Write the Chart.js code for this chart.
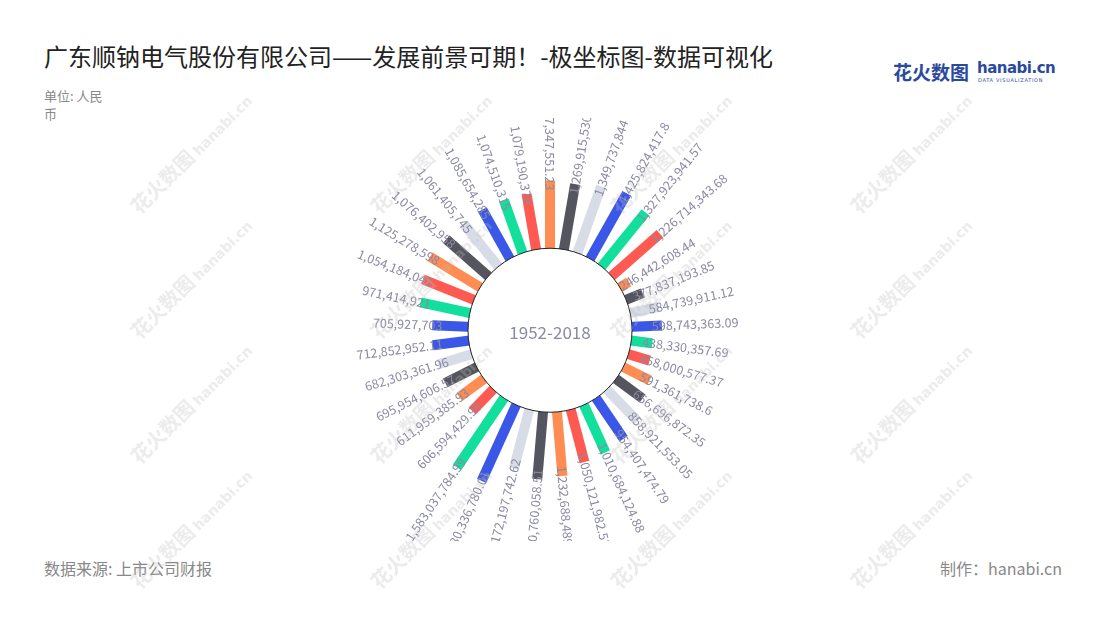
<!DOCTYPE html>
<html>
<head>
<meta charset="utf-8">
<script src="https://cdn.jsdelivr.net/npm/chart.js@4.4.1/dist/chart.umd.min.js"></script>
<style>
  body { margin: 0; background: #fff; font-family: "Noto Sans CJK SC", "Noto Sans", sans-serif; }
  #page { position: relative; width: 1100px; height: 620px; overflow: hidden; }
  #title { position: absolute; left: 44px; top: 38px; font-size: 24px; color: #222; white-space: nowrap; }
  #unit { position: absolute; left: 44px; top: 87px; width: 64px; font-size: 13px; color: #888; line-height: 18px; }
  #source { position: absolute; left: 44px; top: 556px; font-size: 16px; color: #888; }
  #maker { position: absolute; right: 38px; top: 556px; font-size: 16px; color: #888; }
  #logo { position: absolute; left: 893px; top: 58px; color: #2a4a9c; }
  #logo .cn { font-size: 19px; font-weight: bold; }
  #logo .en { position: absolute; left: 84px; top: 1px; font-size: 15px; font-weight: bold; font-family: "DejaVu Sans", sans-serif; letter-spacing: -0.5px; }
  #logo .sub { position: absolute; left: 85px; top: 19px; font-size: 5px; font-family: "DejaVu Sans", sans-serif; white-space: nowrap; letter-spacing: 0.7px; }
  #chartBox { position: absolute; left: 337px; top: 118px; }
  .wm { position: absolute; transform: rotate(-45deg); color: rgba(190,190,190,0.3); white-space: nowrap; pointer-events: none; }
  .wm b { font-size: 20px; }
  .wm span { font-size: 14px; font-weight: bold; font-family: "DejaVu Sans", sans-serif; }
</style>
</head>
<body>
<div id="page">
  <div id="title">广东顺钠电气股份有限公司——发展前景可期！-极坐标图-数据可视化</div>
  <div id="unit">单位: 人民币</div>
  <div id="logo"><span class="cn">花火数图</span><span class="en">hanabi.cn</span><span class="sub">DATA VISUALIZATION</span></div>
  <div id="chartBox"><canvas id="chartCanvas" width="426" height="423"></canvas></div>
  <div id="source">数据来源: 上市公司财报</div>
  <div id="maker">制作：hanabi.cn</div>
</div>
<script>
// values clockwise, starting from the bar at 12 o'clock
const values = [
  1297347551.23, 1269915530, 1349737844, 1425824417.8, 1327923941.57, 1226714343.68,
  246442608.44, 377837193.85, 584739911.12, 598743363.09, 438330357.69, 458000577.37,
  591361738.6, 656696872.35, 858921553.05, 954407474.79, 1010684124.88, 1050121982.53,
  1232688489.5, 1290760058.51, 1172197742.62, 1580336780.01, 1583037784.99, 606594429.95,
  611959385.93, 695954606.57, 682303361.96, 712852952.11, 705927703, 971414921,
  1054184045, 1125278598, 1076402958, 1061405745, 1085654285, 1074510315, 1079190370
];
const palette = ["#3b57e8", "#12df9b", "#ff5a52", "#ff8c52", "#55555f", "#d8dce7"];
const firstItem = 28;   // data series begins at the 705,927,703 bar
const centerText = "1952-2018";

const INNER = 1.436e9;  // value offset of the bar base (hidden under the circle)
const RANGE = 3.873e9;  // half width of the plot in value units
const CIRCLE_PX = 82;
const LABEL_OVERLAP = 10;

// watermarks
const page = document.getElementById("page");
[170, 410, 650, 890].forEach(x => {
  [150, 275, 400, 525].forEach(y => {
    const d = document.createElement("div");
    d.className = "wm";
    d.style.left = (x - 60) + "px";
    d.style.top = (y - 12) + "px";
    d.innerHTML = "<b>花火数图</b> <span>hanabi.cn</span>";
    page.appendChild(d);
  });
});

const n = values.length;
const step = 360 / n;
function colorOf(i) {
  return palette[((i - firstItem + n) % n) % palette.length];
}

const datasets = values.map((v, i) => {
  const a = i * step * Math.PI / 180;
  const r1 = INNER * 0.9;
  const r2 = INNER + v;
  return {
    data: [
      { x: r1 * Math.sin(a), y: r1 * Math.cos(a) },
      { x: r2 * Math.sin(a), y: r2 * Math.cos(a) }
    ],
    showLine: true,
    borderColor: colorOf(i),
    backgroundColor: colorOf(i),
    borderWidth: 10,
    borderCapStyle: "butt",
    pointRadius: 0,
    pointHoverRadius: 0,
    fill: false
  };
});

const fmt = v => v.toLocaleString("en-US", { maximumFractionDigits: 2 });

const radialLabels = {
  id: "radialLabels",
  afterDatasetsDraw(chart) {
    const ctx = chart.ctx;
    const cx = chart.scales.x.getPixelForValue(0);
    const cy = chart.scales.y.getPixelForValue(0);

    ctx.save();
    ctx.beginPath();
    ctx.arc(cx, cy, CIRCLE_PX, 0, Math.PI * 2);
    ctx.fillStyle = "#fff";
    ctx.fill();
    ctx.lineWidth = 1;
    ctx.strokeStyle = "#222";
    ctx.stroke();

    ctx.fillStyle = "#8a8aa2";
    ctx.font = '17px "Noto Sans CJK SC", "Noto Sans", sans-serif';
    ctx.textAlign = "center";
    ctx.textBaseline = "middle";
    ctx.fillText(centerText, cx, cy + 2);

    ctx.font = '12.5px "Noto Sans CJK SC", "Noto Sans", sans-serif';
    ctx.textBaseline = "middle";
    values.forEach((v, i) => {
      const pt = chart.getDatasetMeta(i).data[1];
      const deg = i * step;
      const a = deg * Math.PI / 180;
      const px = pt.x - Math.sin(a) * LABEL_OVERLAP;
      const py = pt.y + Math.cos(a) * LABEL_OVERLAP;
      ctx.save();
      ctx.translate(px, py);
      if (deg > 0 && deg <= 180) {
        ctx.rotate((deg - 90) * Math.PI / 180);
        ctx.textAlign = "left";
      } else {
        ctx.rotate((deg - 270) * Math.PI / 180);
        ctx.textAlign = "right";
      }
      ctx.fillText(fmt(v), 0, 0);
      ctx.restore();
    });
    ctx.restore();
  }
};

new Chart(document.getElementById("chartCanvas").getContext("2d"), {
  type: "scatter",
  data: { datasets: datasets },
  options: {
    responsive: false,
    animation: false,
    layout: { padding: 0 },
    plugins: { legend: { display: false }, tooltip: { enabled: false } },
    scales: {
      x: { type: "linear", min: -RANGE, max: RANGE, display: false },
      y: { type: "linear", min: -RANGE * 423 / 426, max: RANGE, display: false }
    }
  },
  plugins: [radialLabels]
});
</script>
</body>
</html>
